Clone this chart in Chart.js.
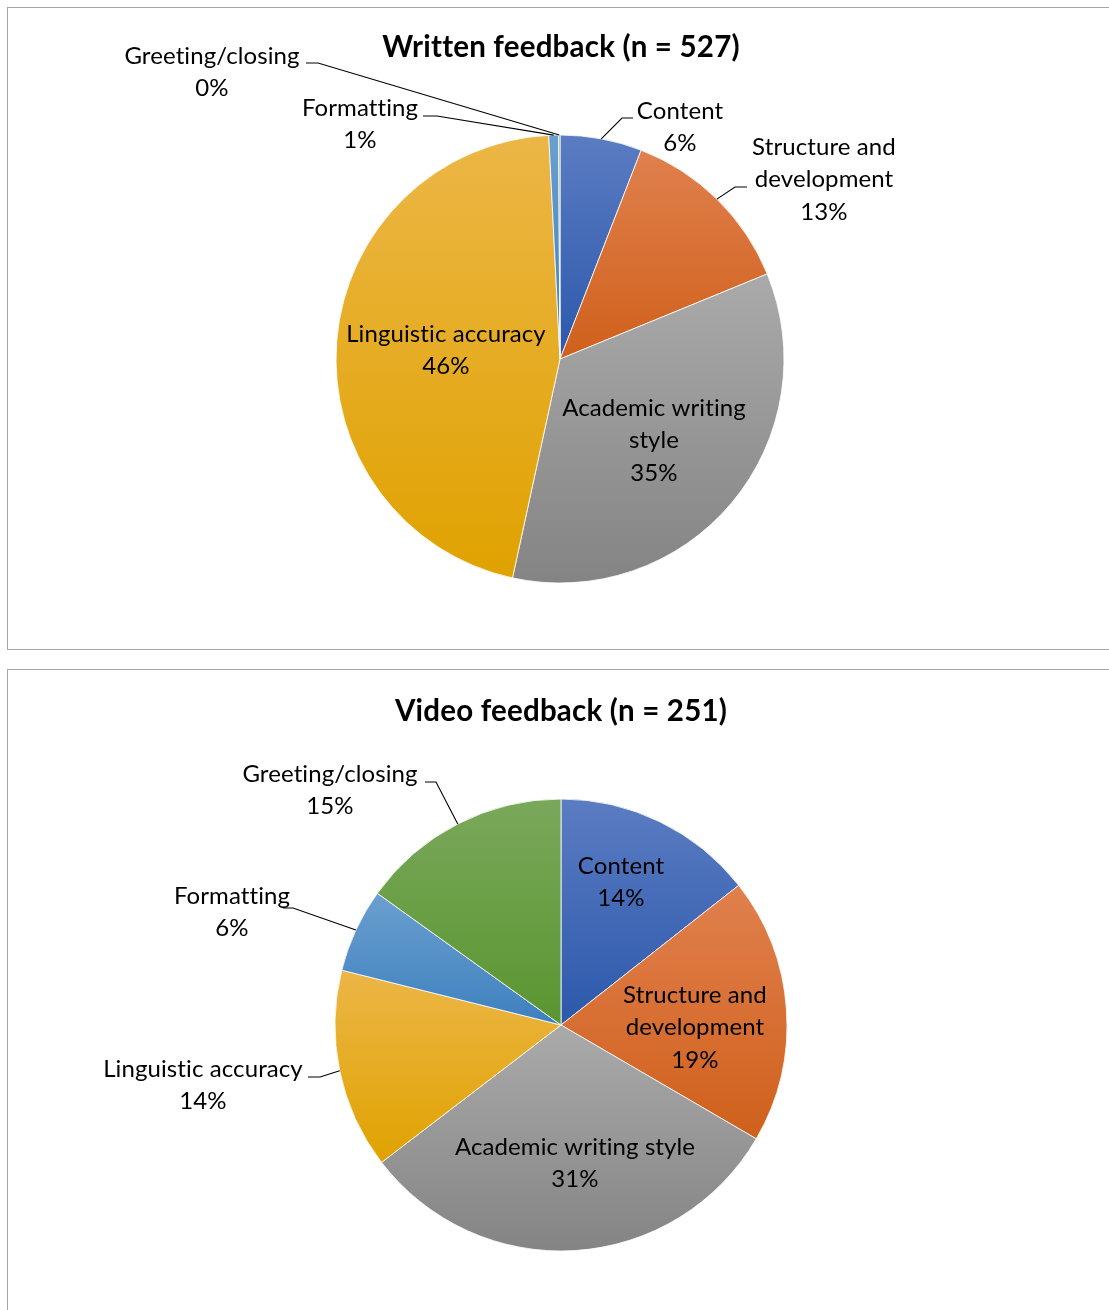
<!DOCTYPE html>
<html>
<head>
<meta charset="utf-8">
<title>Feedback focus</title>
<script src="https://cdn.jsdelivr.net/npm/chart.js@4.4.1/dist/chart.umd.min.js"></script>
<style>
  body { margin: 0; background: #fff; width: 1109px; height: 1310px; overflow: hidden; position: relative; }
  .frame { position: absolute; left: 7px; width: 1200px; border: 1px solid #a6a6a6; }
  #frame1 { top: 7px; height: 641px; }
  #frame2 { top: 669px; height: 700px; }
  canvas { position: absolute; left: 0; }
</style>
</head>
<body>
<div class="frame" id="frame1"></div>
<div class="frame" id="frame2"></div>
<canvas id="writtenChart" width="1109" height="660" style="top:0"></canvas>
<canvas id="videoChart" width="1109" height="650" style="top:660px"></canvas>
<script>
// categorias de feedback y porcentajes de cada tipo
const categories = ['Content', 'Structure and development', 'Academic writing style',
                    'Linguistic accuracy', 'Formatting', 'Greeting/closing'];
const writtenShare = [5.9, 12.9, 34.6, 45.8, 0.7, 0.1];
const videoShare = [14.4, 19.0, 31.2, 14.3, 6.0, 15.1];
const writtenTitle = 'Written feedback (n = 527)';
const videoTitle = 'Video feedback (n = 251)';

// colores: claro arriba, oscuro abajo
const shades = [
    ['#5b7cc2', '#2c58ab'],
    ['#e0804e', '#d0601b'],
    ['#aaaaaa', '#848484'],
    ['#ecb647', '#e0a200'],
    ['#6b9fcf', '#3d80be'],
    ['#7aa85b', '#5a9530']
];

const FONT = 'Lato, "Noto Sans", sans-serif';
const lineGap = 32.5;

// degradado vertical sobre el alto de cada sector
function sliceFill(c) {
    const chart = c.chart;
    const area = chart.chartArea;
    const pair = shades[c.dataIndex];
    if (!area) return pair[1];
    const data = chart.data.datasets[0].data;
    const total = data.reduce((a, b) => a + b, 0);
    let before = 0;
    for (let i = 0; i < c.dataIndex; i++) before += data[i];
    const a0 = -Math.PI / 2 + before / total * 2 * Math.PI;
    const a1 = a0 + data[c.dataIndex] / total * 2 * Math.PI;
    const cx = (area.left + area.right) / 2;
    const cy = (area.top + area.bottom) / 2;
    const r = Math.min(area.width, area.height) / 2;
    const ys = [cy, cy + r * Math.sin(a0), cy + r * Math.sin(a1)];
    let top = Math.min(...ys), bot = Math.max(...ys);
    if (a0 <= Math.PI / 2 && a1 >= Math.PI / 2) bot = cy + r;
    if (a1 >= 1.5 * Math.PI - 1e-9) top = cy - r;
    const g = chart.ctx.createLinearGradient(0, top, 0, bot);
    g.addColorStop(0, pair[0]);
    g.addColorStop(1, pair[1]);
    return g;
}

function wrapText(ctx, text, maxWidth) {
    const words = text.split(' ');
    const lines = [];
    let cur = '';
    words.forEach(w => {
        const test = cur ? cur + ' ' + w : w;
        if (cur && ctx.measureText(test).width > maxWidth) {
            lines.push(cur);
            cur = w;
        } else {
            cur = test;
        }
    });
    if (cur) lines.push(cur);
    return lines;
}

// titulo, etiquetas de datos y lineas guia
const sliceLabels = {
    id: 'sliceLabels',
    afterDraw(chart, args, opts) {
        const ctx = chart.ctx;
        const meta = chart.getDatasetMeta(0);
        const data = chart.data.datasets[0].data;
        const total = data.reduce((a, b) => a + b, 0);
        ctx.save();
        ctx.fillStyle = '#000';
        ctx.textAlign = 'center';
        ctx.textBaseline = 'middle';
        // sin ligaduras (ti, fi)
        ctx.letterSpacing = '0.2px';
        ctx.font = 'bold 29.5px ' + FONT;
        ctx.fillText(opts.title, opts.titleX, opts.titleY);

        ctx.font = '24px ' + FONT;
        ctx.letterSpacing = '0.1px';
        opts.spots.forEach((spot, i) => {
            const pct = Math.round(data[i] / total * 100) + '%';
            const lines = wrapText(ctx, chart.data.labels[i], spot.maxWidth).concat([pct]);
            lines.forEach((ln, k) => ctx.fillText(ln, spot.x, spot.y + k * lineGap));
            if (spot.leader) {
                const arc = meta.data[i];
                const mid = (arc.startAngle + arc.endAngle) / 2;
                const ex = arc.x + Math.cos(mid) * arc.outerRadius;
                const ey = arc.y + Math.sin(mid) * arc.outerRadius;
                ctx.beginPath();
                ctx.moveTo(spot.leader[0][0], spot.leader[0][1]);
                ctx.lineTo(spot.leader[1][0], spot.leader[1][1]);
                ctx.lineTo(ex, ey);
                ctx.strokeStyle = '#000';
                ctx.lineWidth = 1.1;
                ctx.stroke();
            }
        });
        ctx.restore();
    }
};

function makePie(id, values, padding, radius, labelOpts) {
    return new Chart(document.getElementById(id), {
        type: 'pie',
        data: {
            labels: categories,
            datasets: [{
                data: values,
                backgroundColor: sliceFill,
                borderColor: 'rgba(255,255,255,0.8)',
                borderWidth: 1
            }]
        },
        options: {
            responsive: false,
            animation: false,
            radius: radius,
            layout: { padding: padding },
            plugins: {
                legend: { display: false },
                tooltip: { enabled: false },
                title: { display: false },
                sliceLabels: labelOpts
            }
        },
        plugins: [sliceLabels]
    });
}

const writtenChart = makePie('writtenChart', writtenShare,
    { left: 336, right: 325, top: 135, bottom: 77 }, 224, {
        title: writtenTitle, titleX: 561, titleY: 47,
        spots: [
            { x: 680, y: 111, maxWidth: 150, leader: [[633, 118], [622, 118]] },
            { x: 824, y: 147, maxWidth: 165, leader: [[747, 187], [735, 187]] },
            { x: 654, y: 408, maxWidth: 210 },
            { x: 446, y: 334, maxWidth: 260 },
            { x: 360, y: 108, maxWidth: 200, leader: [[423, 116], [437, 116]] },
            { x: 212, y: 56, maxWidth: 220, leader: [[306, 63], [318, 63]] }
        ]
    });

const videoChart = makePie('videoChart', videoShare,
    { left: 335, right: 322, top: 139, bottom: 59 }, 226, {
        title: videoTitle, titleX: 561, titleY: 51,
        spots: [
            { x: 621, y: 206, maxWidth: 150 },
            { x: 695, y: 335, maxWidth: 165 },
            { x: 575, y: 487, maxWidth: 300 },
            { x: 203, y: 409, maxWidth: 260, leader: [[308, 417], [320, 417]] },
            { x: 232, y: 236, maxWidth: 200, leader: [[283, 248], [293, 248]] },
            { x: 330, y: 114, maxWidth: 220, leader: [[425, 122], [436, 122]] }
        ]
    });
</script>
</body>
</html>
